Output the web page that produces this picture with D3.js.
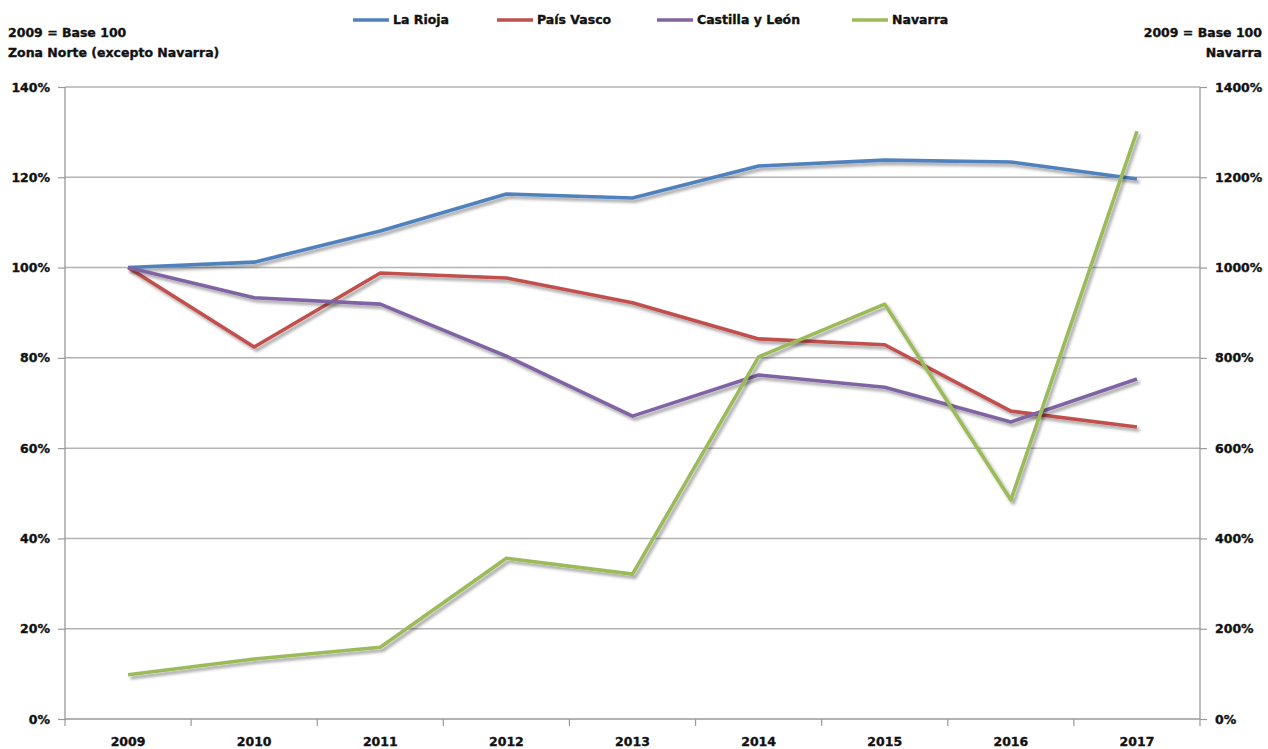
<!DOCTYPE html>
<html><head><meta charset="utf-8">
<script src="https://cdn.jsdelivr.net/npm/d3@7"></script>
<style>
body{margin:0;background:#fff;}
text{font-family:"DejaVu Sans",Verdana,sans-serif;font-weight:bold;fill:#111;stroke:#111;stroke-width:0.35px;}
</style></head>
<body><svg id="c" width="1268" height="749"></svg>
<script>
const years = ["2009","2010","2011","2012","2013","2014","2015","2016","2017"];
const laRioja = [100,101.2,108.1,116.3,115.4,122.5,123.8,123.4,119.6];
const paisVasco = [100,82.4,98.8,97.7,92.2,84.2,82.9,68.2,64.7];
const castilla = [100,93.3,91.9,80.4,67.1,76.2,73.5,65.8,75.3];
const navarra = [98,133,159,356,321,802,919,485,1302];
const leftTicks = [0,20,40,60,80,100,120,140];
const rightTicks = [0,200,400,600,800,1000,1200,1400];
const seriesNames = ["La Rioja","País Vasco","Castilla y León","Navarra"];
const colors = ["#4F81BD","#C0504D","#8064A2","#9BBB59"];

const svg = d3.select("#c");
const L=65,R=1200,T=87,B=719;
const x = d3.scaleBand().domain(years).range([L,R]);
const yL = d3.scaleLinear().domain([0,140]).range([B,T]);
const yR = d3.scaleLinear().domain([0,1400]).range([B,T]);

const defs = svg.append("defs");
const f = defs.append("filter").attr("id","sh").attr("x","-10%").attr("y","-10%").attr("width","120%").attr("height","130%");
f.append("feDropShadow").attr("dx",2.5).attr("dy",3).attr("stdDeviation",1.6).attr("flood-color","#000").attr("flood-opacity",0.35);

// gridlines
svg.append("g").selectAll("line").data(leftTicks.filter(d=>d>0)).join("line")
  .attr("x1",L).attr("x2",R).attr("y1",d=>yL(d)).attr("y2",d=>yL(d))
  .attr("stroke","#b3b3b3").attr("stroke-width",1.5);

// left axis
const gl = svg.append("g").attr("transform",`translate(${L},0)`)
  .call(d3.axisLeft(yL).tickValues(leftTicks).tickFormat(d=>d+"%").tickSize(7).tickPadding(8));
// right axis
const gr = svg.append("g").attr("transform",`translate(${R},0)`)
  .call(d3.axisRight(yR).tickValues(rightTicks).tickFormat(d=>d+"%").tickSize(7).tickPadding(8));
// bottom axis
const gb = svg.append("g").attr("transform",`translate(0,${B})`)
  .call(d3.axisBottom(x).tickSize(0).tickPadding(16));
gb.append("g").selectAll("line").data(years.concat(["end"])).join("line")
  .attr("x1",(d,i)=>L+i*x.step()).attr("x2",(d,i)=>L+i*x.step()).attr("y1",0).attr("y2",7)
  .attr("stroke","#999").attr("stroke-width",1.2);
[gl,gr,gb].forEach(g=>{
  g.selectAll(".domain").attr("stroke","#999").attr("stroke-width",1.3);
  g.selectAll(".tick line").attr("stroke","#999").attr("stroke-width",1.2);
  g.selectAll("text").style("font-family",'"DejaVu Sans",Verdana,sans-serif').style("font-weight","bold").style("font-size","12.5px").attr("fill","#111");
});
gl.select(".domain").attr("d",`M0,${T}V${B}`);
gr.select(".domain").attr("d",`M0,${T}V${B}`);
gb.select(".domain").attr("d",`M${L},0H${R}`);
gb.selectAll("text").attr("dy","0.9em");

// lines
const data = [laRioja,paisVasco,castilla,navarra];
const cx = d=>x(d)+x.bandwidth()/2;
data.forEach((vals,i)=>{
  const ys = i===3 ? yR : yL;
  const line = d3.line().x((d,j)=>cx(years[j])).y(d=>ys(d));
  svg.append("path").datum(vals).attr("d",line).attr("fill","none")
    .attr("stroke",colors[i]).attr("stroke-width",3.6).attr("stroke-linejoin","round")
    .attr("filter","url(#sh)");
});

// legend
const legX = [353,497,657,852];
const lg = svg.append("g");
seriesNames.forEach((n,i)=>{
  lg.append("line").attr("x1",legX[i]).attr("x2",legX[i]+36).attr("y1",20).attr("y2",20)
    .attr("stroke",colors[i]).attr("stroke-width",3.6);
  lg.append("text").attr("x",legX[i]+40).attr("y",20).attr("dy","0.35em").style("font-size","12.5px").text(n);
});

// axis titles
svg.append("text").attr("x",8).attr("y",37).style("font-size","12.5px").text("2009 = Base 100");
svg.append("text").attr("x",8).attr("y",57).style("font-size","12.5px").text("Zona Norte (excepto Navarra)");
svg.append("text").attr("x",1262).attr("y",37).attr("text-anchor","end").style("font-size","12.5px").text("2009 = Base 100");
svg.append("text").attr("x",1262).attr("y",57).attr("text-anchor","end").style("font-size","12.5px").text("Navarra");
</script></body></html>
